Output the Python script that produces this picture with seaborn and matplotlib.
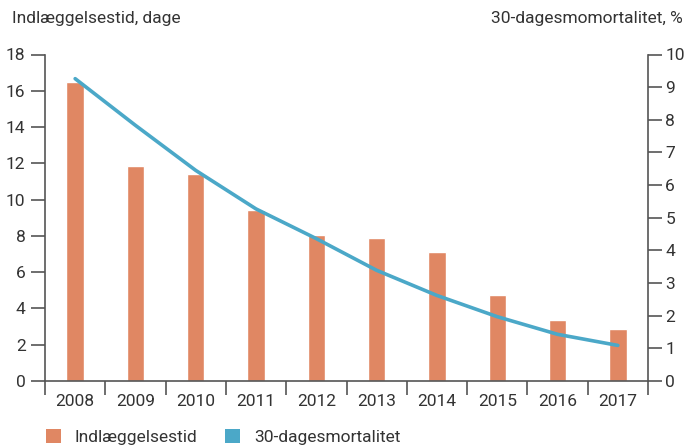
import numpy as np
import pandas as pd
import matplotlib
matplotlib.use("Agg")
import matplotlib.pyplot as plt
import seaborn as sns
from matplotlib.patches import Patch
from matplotlib.ticker import FixedLocator

years = ["2008", "2009", "2010", "2011", "2012", "2013", "2014", "2015", "2016", "2017"]
indlaeggelsestid = [16.5, 11.86, 11.4, 9.42, 8.05, 7.87, 7.09, 4.72, 3.39, 2.89]
mortalitet = [9.26, 7.83, 6.45, 5.27, 4.36, 3.39, 2.62, 1.97, 1.43, 1.09]
left_ticks = [0, 2, 4, 6, 8, 10, 12, 14, 16, 18]
right_ticks = [0, 1, 2, 3, 4, 5, 6, 7, 8, 9, 10]

sns.set_theme(style="white")
plt.rcParams["font.family"] = ["Roboto", "DejaVu Sans"]

BAR = "#E08763"
LINE = "#4BA8C8"
TXT = "#333333"
SPINE = "#555555"

df = pd.DataFrame({"year": years, "dage": indlaeggelsestid,
                   "pos": np.arange(len(years)), "mort": mortalitet})

fig = plt.figure(figsize=(6.87, 4.47), dpi=100)
ax = fig.add_axes([45/687, 1-381/447, (648-45)/687, (381-54.5)/447])
sns.barplot(data=df, x="year", y="dage", color=BAR, width=0.29,
            saturation=1, ax=ax, zorder=2)
ax.set_xlim(-0.5, 9.5)
ax.set_ylim(0, 18)
ax.set_yticks(left_ticks)
ax.set_xlabel("")
ax.set_ylabel("")

ax2 = ax.twinx()
sns.lineplot(data=df, x="pos", y="mort", color=LINE, linewidth=2.6, ax=ax2, zorder=3)
ax2.set_ylim(0, 10)
ax2.set_yticks(right_ticks)
ax2.set_xlim(-0.5, 9.5)
ax2.set_xlabel("")
ax2.set_ylabel("")

for a in (ax, ax2):
    for s in a.spines.values():
        s.set_color(SPINE)
        s.set_linewidth(1.2)
    a.spines["top"].set_visible(False)

ax.spines["right"].set_visible(False)
ax2.spines["left"].set_visible(False)
ax2.spines["bottom"].set_visible(False)

ax.tick_params(axis="y", left=True, length=10, width=1.2, color=SPINE,
               labelsize=12.5, labelcolor=TXT, pad=4)
ax2.tick_params(axis="y", right=True, length=10, width=1.2, color=SPINE,
                labelsize=12.5, labelcolor=TXT, pad=2.5)
ax.tick_params(axis="x", which="major", bottom=True, length=0, labelsize=12.5,
               labelcolor=TXT, pad=9)
ax.xaxis.set_minor_locator(FixedLocator(np.arange(-0.5, 10, 1.0)))
ax.tick_params(axis="x", which="minor", bottom=True, length=10, width=1.2, color=SPINE)

fig.text(12/687, 1-18/447, "Indlæggelsestid, dage", ha="left", va="center",
         fontsize=12.5, color=TXT)
fig.text(683/687, 1-18/447, "30-dagesmomortalitet, %", ha="right", va="center",
         fontsize=12.5, color=TXT)

handles = [Patch(facecolor=BAR, edgecolor="none", label="Indlæggelsestid"),
           Patch(facecolor=LINE, edgecolor="none", label="30-dagesmortalitet")]
fig.legend(handles=handles, loc="center left", bbox_to_anchor=(46/687, 1-437/447),
           ncol=2, frameon=False, fontsize=12.5, handlelength=0.85, handleheight=0.85,
           handletextpad=0.8, columnspacing=1.6, labelcolor=TXT, borderaxespad=0,
           borderpad=0)

fig.savefig("out.png", dpi=100)
